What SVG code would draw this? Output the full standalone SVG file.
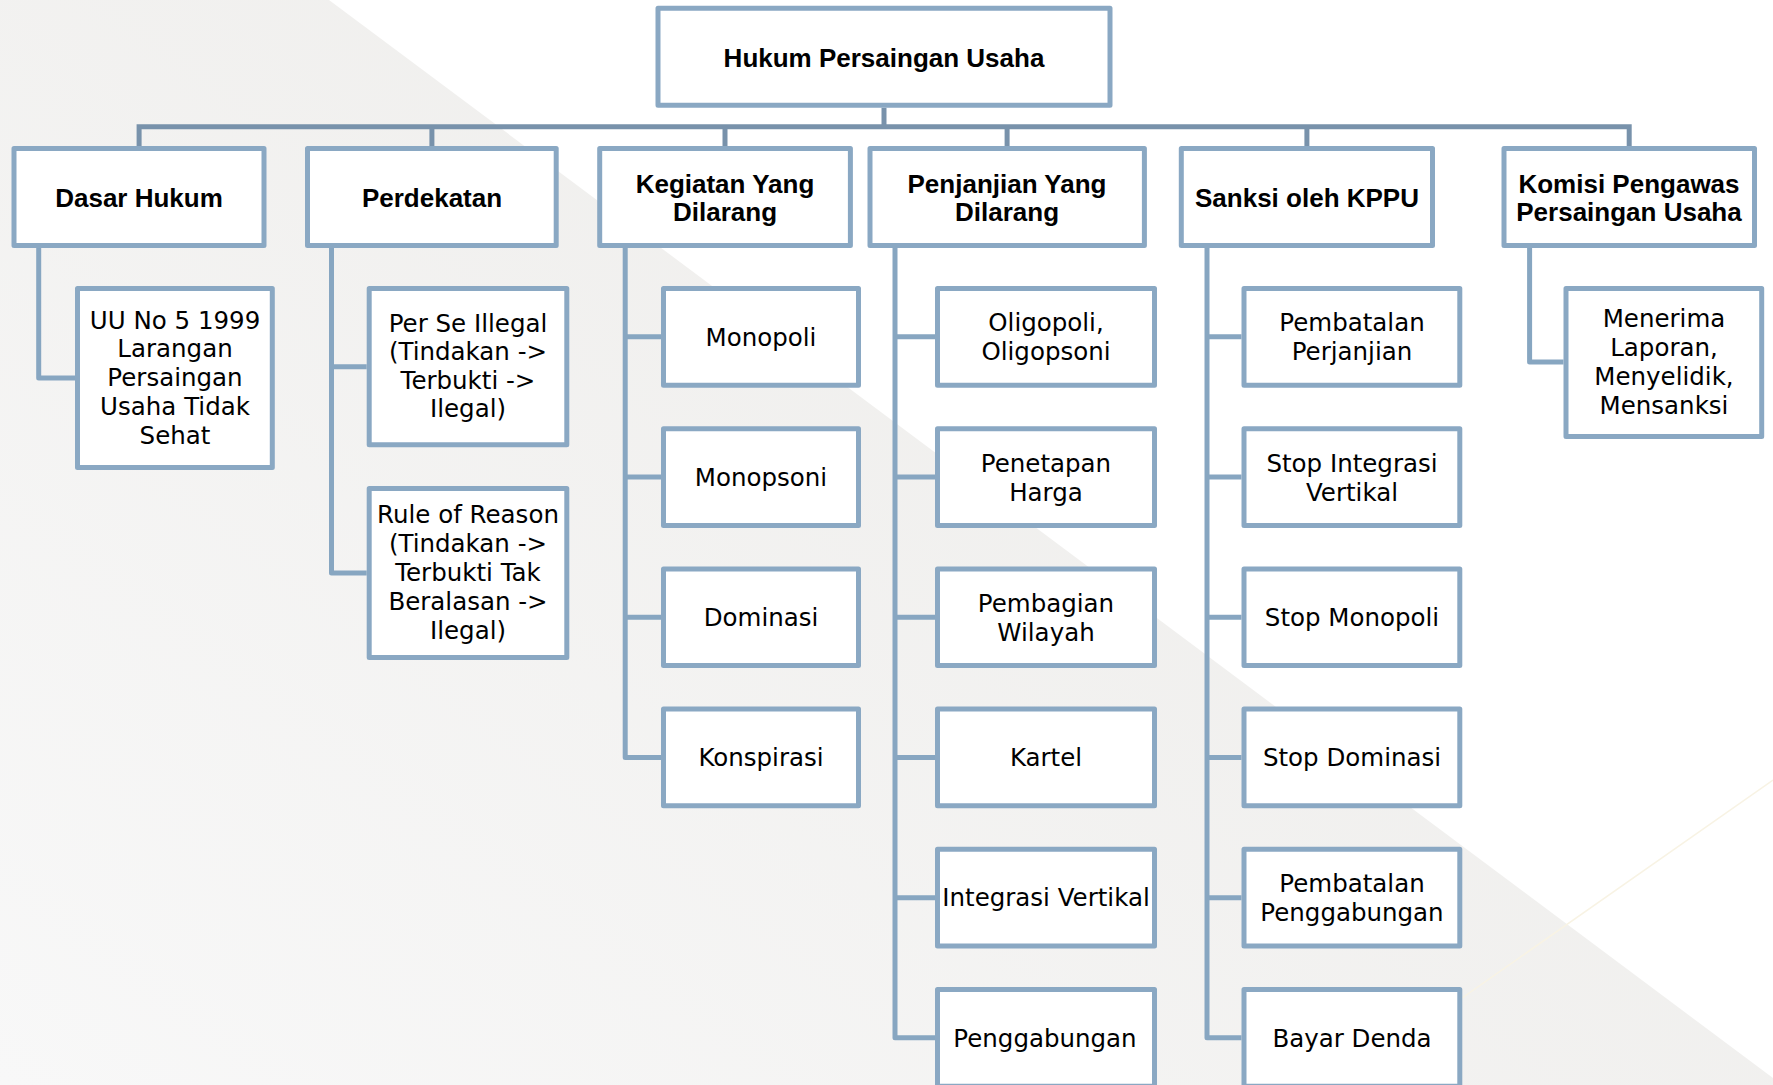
<svg xmlns="http://www.w3.org/2000/svg" width="1773" height="1085" viewBox="0 0 1773 1085">
<style>
.bg-white{fill:#ffffff}
.box{fill:#ffffff;stroke:#8aa8c3;stroke-width:5;stroke-linejoin:round}
.main{fill:none;stroke:#7892ab;stroke-width:5;stroke-linejoin:miter;stroke-linecap:butt}
.sub{fill:none;stroke:#87a6c1;stroke-width:5;stroke-linejoin:round;stroke-linecap:butt}
.hd{font-family:"Liberation Sans",Arial,sans-serif;font-weight:bold;font-size:26px;fill:#000;text-anchor:middle}
.tx{font-family:"DejaVu Sans","Liberation Sans",sans-serif;font-size:24.5px;fill:#000;text-anchor:middle}
</style>
<defs>
<linearGradient id="gray" gradientUnits="userSpaceOnUse" x1="800" y1="0" x2="0" y2="1085">
<stop offset="0" stop-color="#efeeec"/>
<stop offset="1" stop-color="#f8f8f8"/>
</linearGradient>
</defs>
<g id="background">
<rect x="0" y="0" width="1773" height="1085" class="bg-white"/>
<polygon points="0,0 329,0 1773,1078 1773,1085 0,1085" fill="url(#gray)"/>
<line x1="1462" y1="998" x2="1773" y2="780" stroke="#f8f3e4" stroke-width="1.5"/>
</g>
<g id="connectors">
<path class="main" d="M139.1,146 V126.7 H1629.2 V146"/>
<path class="main" d="M884,107.7 V126.7 M431.9,126.7 V146 M725,126.7 V146 M1007.1,126.7 V146 M1306.9,126.7 V146"/>
<path class="sub" d="M38.7,248 V378 H75"/>
<path class="sub" d="M331.5,248 V573 H366.7 M331.5,366.7 H366.7"/>
<path class="sub" d="M625.2,248 V757.45 H661 M625.2,336.85 H661 M625.2,477.05 H661 M625.2,617.25 H661"/>
<path class="sub" d="M895,248 V1037.85 H935 M895,336.85 H935 M895,477.05 H935 M895,617.25 H935 M895,757.45 H935 M895,897.65 H935"/>
<path class="sub" d="M1207,248 V1037.85 H1241.5 M1207,336.85 H1241.5 M1207,477.05 H1241.5 M1207,617.25 H1241.5 M1207,757.45 H1241.5 M1207,897.65 H1241.5"/>
<path class="sub" d="M1529.6,248 V362 H1563.5"/>
</g>
<g id="root">
<rect class="box" x="658" y="8.2" width="452" height="97"/>
<text class="hd" x="884" y="66.5">Hukum Persaingan Usaha</text>
</g>
<g id="dasar-hukum">
<rect class="box" x="14" y="148.5" width="250" height="97"/>
<text class="hd" x="139" y="206.5">Dasar Hukum</text>
</g>
<g id="perdekatan">
<rect class="box" x="307.5" y="148.5" width="248.7" height="97"/>
<text class="hd" x="432" y="206.5">Perdekatan</text>
</g>
<g id="kegiatan">
<rect class="box" x="599.7" y="148.5" width="250.7" height="97"/>
<text class="hd" x="725" y="192.7">Kegiatan Yang</text>
<text class="hd" x="725" y="220.7">Dilarang</text>
</g>
<g id="penjanjian">
<rect class="box" x="870" y="148.5" width="274.4" height="97"/>
<text class="hd" x="1007" y="192.7">Penjanjian Yang</text>
<text class="hd" x="1007" y="220.7">Dilarang</text>
</g>
<g id="sanksi">
<rect class="box" x="1181.3" y="148.5" width="251.2" height="97"/>
<text class="hd" x="1307" y="206.5">Sanksi oleh KPPU</text>
</g>
<g id="komisi">
<rect class="box" x="1504" y="148.5" width="250.5" height="97"/>
<text class="hd" x="1629" y="192.7">Komisi Pengawas</text>
<text class="hd" x="1629" y="220.7">Persaingan Usaha</text>
</g>
<g id="uu">
<rect class="box" x="77.5" y="288.5" width="194.8" height="179"/>
<text class="tx" x="175" y="328.5">UU No 5 1999</text>
<text class="tx" x="175" y="357.3">Larangan</text>
<text class="tx" x="175" y="386">Persaingan</text>
<text class="tx" x="175" y="414.8">Usaha Tidak</text>
<text class="tx" x="175" y="443.5">Sehat</text>
</g>
<g id="per-se">
<rect class="box" x="369.2" y="288.5" width="197.6" height="156.3"/>
<text class="tx" x="468" y="331.5">Per Se Illegal</text>
<text class="tx" x="468" y="360">(Tindakan -&gt;</text>
<text class="tx" x="468" y="388.5">Terbukti -&gt;</text>
<text class="tx" x="468" y="417">Ilegal)</text>
</g>
<g id="rule-of-reason">
<rect class="box" x="369.2" y="488.5" width="197.6" height="169"/>
<text class="tx" x="468" y="523">Rule of Reason</text>
<text class="tx" x="468" y="552">(Tindakan -&gt;</text>
<text class="tx" x="468" y="581">Terbukti Tak</text>
<text class="tx" x="468" y="610">Beralasan -&gt;</text>
<text class="tx" x="468" y="639">Ilegal)</text>
</g>
<g id="monopoli">
<rect class="box" x="663.5" y="288.5" width="195" height="96.7"/>
<text class="tx" x="761" y="345.5">Monopoli</text>
</g>
<g id="monopsoni">
<rect class="box" x="663.5" y="428.7" width="195" height="96.7"/>
<text class="tx" x="761" y="485.7">Monopsoni</text>
</g>
<g id="dominasi">
<rect class="box" x="663.5" y="568.9" width="195" height="96.7"/>
<text class="tx" x="761" y="625.9">Dominasi</text>
</g>
<g id="konspirasi">
<rect class="box" x="663.5" y="709.1" width="195" height="96.7"/>
<text class="tx" x="761" y="766.1">Konspirasi</text>
</g>
<g id="oligopoli">
<rect class="box" x="937.5" y="288.5" width="217" height="96.7"/>
<text class="tx" x="1046" y="331.3">Oligopoli,</text>
<text class="tx" x="1046" y="360.3">Oligopsoni</text>
</g>
<g id="penetapan-harga">
<rect class="box" x="937.5" y="428.7" width="217" height="96.7"/>
<text class="tx" x="1046" y="471.5">Penetapan</text>
<text class="tx" x="1046" y="500.5">Harga</text>
</g>
<g id="pembagian-wilayah">
<rect class="box" x="937.5" y="568.9" width="217" height="96.7"/>
<text class="tx" x="1046" y="611.7">Pembagian</text>
<text class="tx" x="1046" y="640.7">Wilayah</text>
</g>
<g id="kartel">
<rect class="box" x="937.5" y="709.1" width="217" height="96.7"/>
<text class="tx" x="1046" y="766.1">Kartel</text>
</g>
<g id="integrasi-vertikal">
<rect class="box" x="937.5" y="849.3" width="217" height="96.7"/>
<text class="tx" x="1046" y="906.3">Integrasi Vertikal</text>
</g>
<g id="penggabungan">
<rect class="box" x="937.5" y="989.5" width="217" height="96.7"/>
<text class="tx" x="1045" y="1046.5">Penggabungan</text>
</g>
<g id="pembatalan-perjanjian">
<rect class="box" x="1244" y="288.5" width="215.8" height="96.7"/>
<text class="tx" x="1352" y="331.3">Pembatalan</text>
<text class="tx" x="1352" y="360.3">Perjanjian</text>
</g>
<g id="stop-integrasi">
<rect class="box" x="1244" y="428.7" width="215.8" height="96.7"/>
<text class="tx" x="1352" y="471.5">Stop Integrasi</text>
<text class="tx" x="1352" y="500.5">Vertikal</text>
</g>
<g id="stop-monopoli">
<rect class="box" x="1244" y="568.9" width="215.8" height="96.7"/>
<text class="tx" x="1352" y="625.9">Stop Monopoli</text>
</g>
<g id="stop-dominasi">
<rect class="box" x="1244" y="709.1" width="215.8" height="96.7"/>
<text class="tx" x="1352" y="766.1">Stop Dominasi</text>
</g>
<g id="pembatalan-penggabungan">
<rect class="box" x="1244" y="849.3" width="215.8" height="96.7"/>
<text class="tx" x="1352" y="892.1">Pembatalan</text>
<text class="tx" x="1352" y="921.1">Penggabungan</text>
</g>
<g id="bayar-denda">
<rect class="box" x="1244" y="989.5" width="215.8" height="96.7"/>
<text class="tx" x="1352" y="1046.5">Bayar Denda</text>
</g>
<g id="menerima">
<rect class="box" x="1566" y="288.5" width="195.7" height="148"/>
<text class="tx" x="1664" y="327">Menerima</text>
<text class="tx" x="1664" y="356">Laporan,</text>
<text class="tx" x="1664" y="385">Menyelidik,</text>
<text class="tx" x="1664" y="414">Mensanksi</text>
</g>
</svg>
